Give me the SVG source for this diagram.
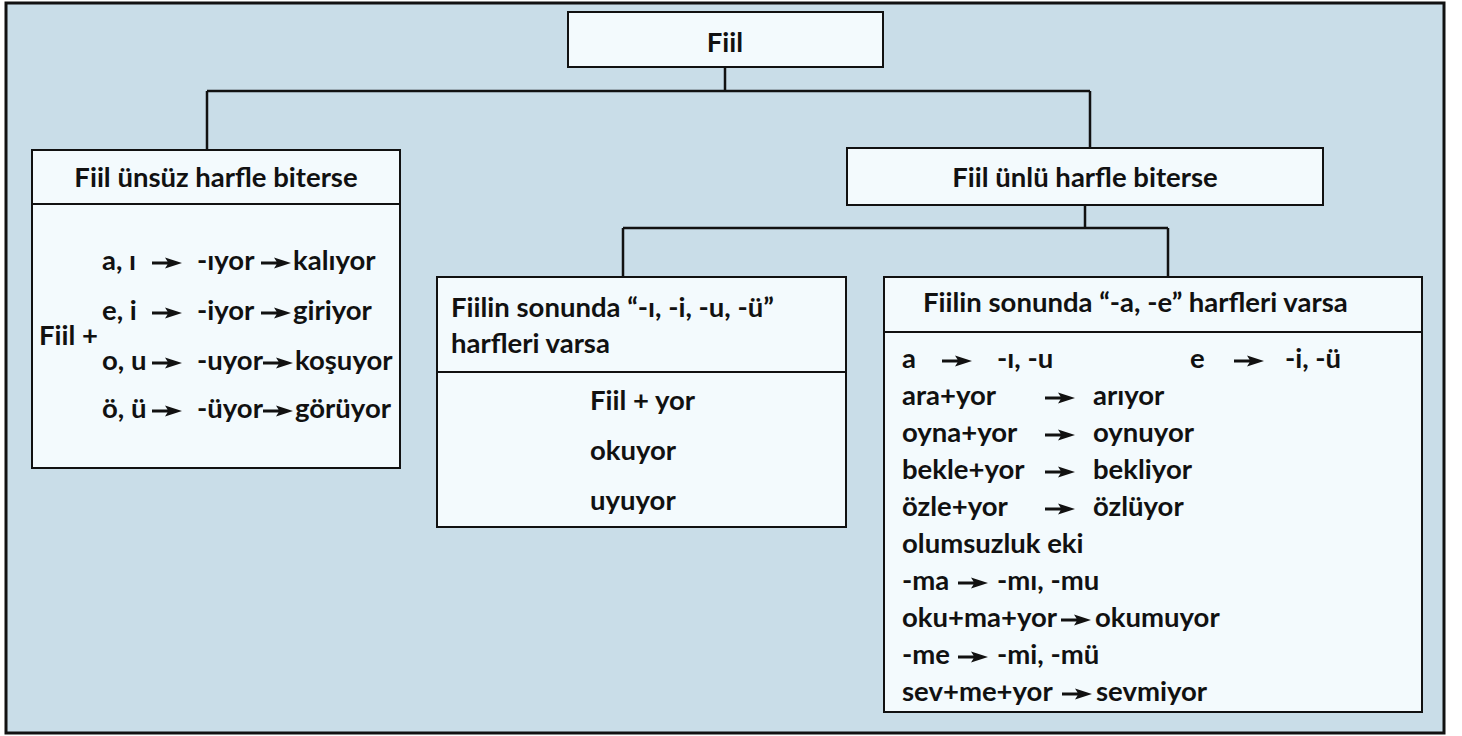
<svg xmlns="http://www.w3.org/2000/svg" xmlns:xlink="http://www.w3.org/1999/xlink" width="1462" height="736" viewBox="0 0 1462 736">
<style>
.bg{fill:#c9dde8;stroke:#111;stroke-width:3}
.box{fill:#f3fafd;stroke:#111;stroke-width:2}
.div{stroke:#111;stroke-width:2}
.con{fill:none;stroke:#111;stroke-width:2.5}
.t{font-family:Lato,"Open Sans","DejaVu Sans",sans-serif;font-weight:700;font-size:27.5px;fill:#111}
.m{text-anchor:middle}
.ar{fill:#111}
</style>
<defs>
<path id="ar" d="M0,-1.4 H17 V1.4 H0 Z M13,-5.5 L30,0 L13,5.5 L16.5,0 Z"/>
<path id="arl" d="M0,-1.4 H22 V1.4 H0 Z M18,-5.5 L35,0 L18,5.5 L21.5,0 Z"/>
</defs>
<rect x="0" y="0" width="1462" height="736" fill="#fff"/>
<rect class="bg" x="6" y="3" width="1438" height="730"/>

<g id="connectors">
<path class="con" d="M725,67 V91 M207,91 H1090 M207,91 V150 M1090,91 V148"/>
<path class="con" d="M1085,205 V228 M623,228 H1168 M623,228 V277 M1168,228 V277"/>
</g>

<g id="node-root">
<rect class="box" x="568" y="12" width="315" height="55"/>
<text class="t m" x="725" y="52">Fiil</text>
</g>

<g id="node-unsuz">
<rect class="box" x="32" y="150" width="368" height="318"/>
<line class="div" x1="32" y1="204" x2="400" y2="204"/>
<text class="t m" x="216" y="187">Fiil ünsüz harfle biterse</text>
<text class="t" x="39" y="345">Fiil +</text>
<text class="t" x="102" y="270">a, ı</text>
<use href="#ar" class="ar" x="152" y="263"/>
<text class="t" x="197" y="270">-ıyor</text>
<use href="#ar" class="ar" x="261" y="263"/>
<text class="t" x="293" y="270">kalıyor</text>
<text class="t" x="102" y="320">e, i</text>
<use href="#ar" class="ar" x="152" y="313"/>
<text class="t" x="197" y="320">-iyor</text>
<use href="#ar" class="ar" x="261" y="313"/>
<text class="t" x="293" y="320">giriyor</text>
<text class="t" x="102" y="370">o, u</text>
<use href="#ar" class="ar" x="152" y="363"/>
<text class="t" x="197" y="370">-uyor</text>
<use href="#ar" class="ar" x="263" y="363"/>
<text class="t" x="295" y="370">koşuyor</text>
<text class="t" x="102" y="418">ö, ü</text>
<use href="#ar" class="ar" x="152" y="411"/>
<text class="t" x="197" y="418">-üyor</text>
<use href="#ar" class="ar" x="263" y="411"/>
<text class="t" x="295" y="418">görüyor</text>
</g>

<g id="node-unlu">
<rect class="box" x="847" y="148" width="476" height="57"/>
<text class="t m" x="1085" y="187">Fiil ünlü harfle biterse</text>
</g>

<g id="node-iuu">
<rect class="box" x="437" y="277" width="409" height="250"/>
<line class="div" x1="437" y1="372" x2="846" y2="372"/>
<text class="t" x="451" y="317">Fiilin sonunda “-ı, -i, -u, -ü”</text>
<text class="t" x="451" y="353">harfleri varsa</text>
<text class="t" x="590" y="410">Fiil + yor</text>
<text class="t" x="590" y="460">okuyor</text>
<text class="t" x="590" y="510">uyuyor</text>
</g>

<g id="node-ae">
<rect class="box" x="884" y="277" width="538" height="435"/>
<line class="div" x1="884" y1="332" x2="1422" y2="332"/>
<text class="t" x="923" y="312">Fiilin sonunda “-a, -e” harfleri varsa</text>
<text class="t" x="902" y="368">a</text>
<use href="#ar" class="ar" x="942" y="361"/>
<text class="t" x="997" y="368">-ı, -u</text>
<text class="t" x="1190" y="368">e</text>
<use href="#ar" class="ar" x="1234" y="361"/>
<text class="t" x="1285" y="368">-i, -ü</text>
<text class="t" x="902" y="405">ara+yor</text>
<use href="#ar" class="ar" x="1045" y="398"/>
<text class="t" x="1093" y="405">arıyor</text>
<text class="t" x="902" y="442">oyna+yor</text>
<use href="#ar" class="ar" x="1045" y="435"/>
<text class="t" x="1093" y="442">oynuyor</text>
<text class="t" x="902" y="479">bekle+yor</text>
<use href="#ar" class="ar" x="1045" y="472"/>
<text class="t" x="1093" y="479">bekliyor</text>
<text class="t" x="902" y="516">özle+yor</text>
<use href="#ar" class="ar" x="1045" y="509"/>
<text class="t" x="1093" y="516">özlüyor</text>
<text class="t" x="902" y="553">olumsuzluk eki</text>
<text class="t" x="902" y="590">-ma</text>
<use href="#ar" class="ar" x="958" y="583"/>
<text class="t" x="997" y="590">-mı, -mu</text>
<text class="t" x="902" y="627">oku+ma+yor</text>
<use href="#ar" class="ar" x="1061" y="620"/>
<text class="t" x="1095" y="627">okumuyor</text>
<text class="t" x="902" y="664">-me</text>
<use href="#ar" class="ar" x="958" y="657"/>
<text class="t" x="997" y="664">-mi, -mü</text>
<text class="t" x="902" y="701">sev+me+yor</text>
<use href="#ar" class="ar" x="1062" y="694"/>
<text class="t" x="1096" y="701">sevmiyor</text>
</g>
</svg>
